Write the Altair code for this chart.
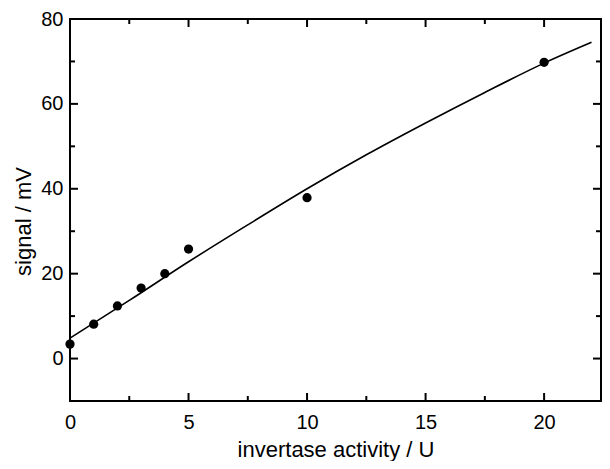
import altair as alt
import pandas as pd

# measured data points
activity = [0, 1, 2, 3, 4, 5, 10, 20]
signal = [3.4, 8.1, 12.4, 16.6, 20.0, 25.8, 37.9, 69.8]

# fitted curve
fit_x = [0, 2.5, 5, 7.5, 10, 12.5, 15, 17.5, 20, 22]
fit_y = [4.8, 13.7, 22.8, 31.5, 40.0, 48.0, 55.5, 62.7, 69.6, 74.5]

x_major = [0, 5, 10, 15, 20]
x_minor = [2.5, 7.5, 12.5, 17.5]
y_major = [0, 20, 40, 60, 80]
y_minor = [10, 30, 50, 70]

X_MIN, X_MAX = 0, 22.4
Y_MIN, Y_MAX = -10, 80

W, H = 531, 382

pts = pd.DataFrame({"x": activity, "y": signal})
fit = pd.DataFrame({"x": fit_x, "y": fit_y})

xs = alt.Scale(domain=[X_MIN, X_MAX], nice=False, zero=False, padding=0)
ys = alt.Scale(domain=[Y_MIN, Y_MAX], nice=False, zero=False, padding=0)

FONT = "Liberation Sans"
MAJ, MIN = 8, 5
# tick lengths in data units
ky = (Y_MAX - Y_MIN) / H
kx = (X_MAX - X_MIN) / W

curve = alt.Chart(fit).mark_line(color="black", strokeWidth=1.6, interpolate="monotone").encode(
    x=alt.X("x:Q", scale=xs, axis=alt.Axis(
        values=x_major, ticks=False, tickSize=0, domain=False, grid=False,
        labelFlush=False, labelOverlap=False,
        labelPadding=11, labelFontSize=20, labelColor="black", labelFont=FONT,
        title="invertase activity / U", titleFontSize=22, titleFont=FONT,
        titleFontWeight="normal", titleColor="black", titleY=55,
        titleBaseline="alphabetic")),
    y=alt.Y("y:Q", scale=ys, axis=alt.Axis(
        values=y_major, ticks=False, tickSize=0, domain=False, grid=False,
        labelFlush=False, labelOverlap=False,
        labelPadding=7, labelFontSize=20, labelColor="black", labelFont=FONT,
        title="signal / mV", titleFontSize=22, titleFont=FONT,
        titleFontWeight="normal", titleColor="black", titleX=-40, titleY=202,
        titleBaseline="alphabetic")),
)

points = alt.Chart(pts).mark_point(filled=True, color="black", opacity=1, size=85).encode(
    x=alt.X("x:Q", scale=xs),
    y=alt.Y("y:Q", scale=ys),
)


def xticks(values, at, length):
    lo, hi = sorted([at, at + length])
    df = pd.DataFrame({"x": values, "y0": [lo] * len(values),
                       "y1": [hi] * len(values)})
    return alt.Chart(df).mark_bar(color="black", size=2, orient="vertical").encode(
        x=alt.X("x:Q", scale=xs),
        y=alt.Y("y0:Q", scale=ys),
        y2="y1:Q",
    )


def yticks(values, at, length):
    lo, hi = sorted([at, at + length])
    df = pd.DataFrame({"y": values, "x0": [lo] * len(values),
                       "x1": [hi] * len(values)})
    return alt.Chart(df).mark_bar(color="black", size=2, orient="horizontal").encode(
        y=alt.Y("y:Q", scale=ys),
        x=alt.X("x0:Q", scale=xs),
        x2="x1:Q",
    )


ticks = [
    xticks(x_major, Y_MIN, MAJ * ky), xticks(x_minor, Y_MIN, MIN * ky),
    xticks(x_major, Y_MAX, -MAJ * ky), xticks(x_minor, Y_MAX, -MIN * ky),
    yticks(y_major, X_MIN, MAJ * kx), yticks(y_minor, X_MIN, MIN * kx),
    yticks(y_major, X_MAX, -MAJ * kx), yticks(y_minor, X_MAX, -MIN * kx),
]

chart = alt.layer(curve, *ticks, points).properties(
    width=W, height=H,
    autosize=alt.AutoSizeParams(type="none"),
    padding={"left": 62, "top": 11, "right": 1, "bottom": 60},
    background="white",
).configure_view(stroke="black", strokeWidth=2)

chart.save("out.html", embed_options={"renderer": "svg", "actions": False})
